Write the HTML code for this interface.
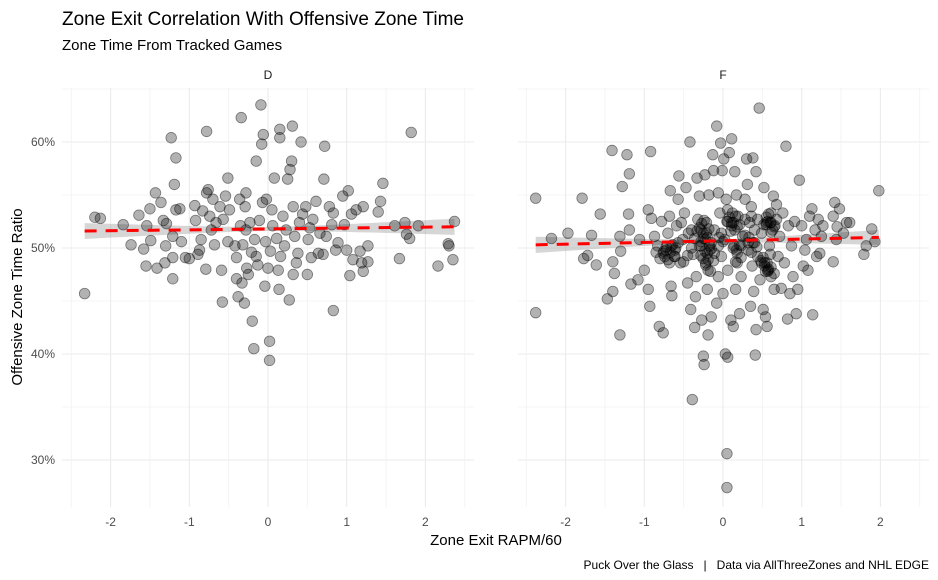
<!DOCTYPE html>
<html><head><meta charset="utf-8">
<style>
body{margin:0;background:#fff;}
svg{display:block;font-family:"Liberation Sans",Arial,sans-serif;}
</style></head>
<body>
<svg id="chart" width="938" height="580" viewBox="0 0 938 580">
<rect width="938" height="580" fill="#fff"/>
<text x="62" y="25" font-size="19" fill="#000">Zone Exit Correlation With Offensive Zone Time</text>
<text x="62" y="50" font-size="15" fill="#000">Zone Time From Tracked Games</text>
<text x="268" y="79" font-size="12" fill="#1a1a1a" text-anchor="middle">D</text>
<text x="723" y="79" font-size="12" fill="#1a1a1a" text-anchor="middle">F</text>
<g id="grid"></g>
<g id="yticks"></g>
<g id="xticks"></g>
<g id="panelD"></g>
<g id="panelF"></g>
<text transform="translate(22,297) rotate(-90)" font-size="15" text-anchor="middle" fill="#000">Offensive Zone Time Ratio</text>
<text x="496" y="545" font-size="15" text-anchor="middle" fill="#000">Zone Exit RAPM/60</text>
<text x="929" y="569" font-size="12" text-anchor="end" fill="#000" style="white-space:pre">Puck Over the Glass   |   Data via AllThreeZones and NHL EDGE</text>
</svg>
<script>
const yTickValues=[30,40,50,60];
const yTickLabels=["30%","40%","50%","60%"];
const xTickValues=[-2,-1,0,1,2];
const xTickLabels=["-2","-1","0","1","2"];
const dX=[-2.33,-2.20,-2.13,-1.84,-1.74,-1.64,-1.58,-1.55,-1.54,-1.50,-1.49,-1.43,-1.41,-1.36,-1.33,-1.31,-1.30,-1.29,-1.23,-1.21,-1.21,-1.21,-1.19,-1.17,-1.17,-1.12,-1.10,-1.05,-1.00,-0.93,-0.92,-0.89,-0.87,-0.85,-0.83,-0.79,-0.78,-0.78,-0.76,-0.74,-0.72,-0.70,-0.68,-0.66,-0.61,-0.59,-0.58,-0.57,-0.54,-0.51,-0.51,-0.49,-0.42,-0.40,-0.40,-0.38,-0.36,-0.35,-0.34,-0.33,-0.32,-0.30,-0.29,-0.28,-0.28,-0.27,-0.25,-0.23,-0.21,-0.20,-0.18,-0.17,-0.15,-0.15,-0.13,-0.11,-0.09,-0.08,-0.07,-0.06,-0.04,-0.03,-0.02,0,0.02,0.02,0.03,0.05,0.06,0.08,0.11,0.13,0.14,0.15,0.15,0.16,0.19,0.21,0.23,0.25,0.27,0.28,0.30,0.31,0.32,0.32,0.34,0.36,0.38,0.40,0.42,0.44,0.48,0.50,0.51,0.53,0.55,0.57,0.61,0.64,0.66,0.70,0.71,0.72,0.74,0.78,0.81,0.83,0.83,0.86,0.89,0.95,0.97,1.00,1.02,1.04,1.06,1.08,1.12,1.17,1.19,1.21,1.21,1.27,1.27,1.40,1.43,1.46,1.61,1.67,1.74,1.76,1.80,1.82,1.91,2.16,2.29,2.30,2.35,2.37];
const dY=[45.7,52.9,52.8,52.2,50.3,53.1,49.9,48.3,52.1,53.7,50.7,55.2,48.1,54.3,52.6,48.6,50.2,52.3,60.4,47.1,49.1,51.1,56.0,58.5,53.6,53.7,50.6,49.1,49.0,54.0,52.6,49.4,49.8,50.8,53.5,48.0,55.2,61.0,55.5,53.0,51.7,54.6,50.3,52.4,53.9,47.9,44.9,52.7,54.9,56.6,50.6,53.6,50.2,49.1,47.1,45.4,54.6,52.1,62.3,46.7,50.3,44.8,53.9,55.2,51.7,48.1,47.5,52.4,49.6,43.1,40.5,50.8,58.2,49.2,48.4,52.6,63.5,59.8,54.3,60.7,46.4,50.6,54.6,48.1,41.2,39.4,49.7,53.6,52.1,56.6,50.9,47.9,46.1,61.2,60.4,49.2,53.0,50.2,51.7,56.5,45.1,57.4,58.2,61.5,53.9,47.5,51.1,48.6,49.5,52.4,60.0,53.2,53.9,47.5,50.8,51.9,49.1,52.7,54.4,49.5,51.4,49.4,56.5,59.6,51.1,53.9,52.2,53.3,44.1,49.8,50.5,54.9,52.2,49.8,55.4,47.4,53.2,48.9,53.6,49.7,48.6,47.8,53.9,50.2,48.7,53.4,54.4,56.1,52.1,49.0,52.4,51.3,50.9,60.9,52.1,48.3,50.4,50.2,48.9,52.5];
const fX=[-2.38,-2.38,-2.18,-1.97,-1.79,-1.77,-1.72,-1.67,-1.61,-1.56,-1.47,-1.41,-1.40,-1.40,-1.38,-1.31,-1.31,-1.30,-1.28,-1.22,-1.20,-1.19,-1.19,-1.17,-1.08,-1.06,-1.00,-0.95,-0.95,-0.93,-0.92,-0.91,-0.87,-0.83,-0.81,-0.78,-0.76,-0.74,-0.70,-0.68,-0.67,-0.66,-0.65,-0.61,-0.59,-0.57,-0.56,-0.54,-0.51,-0.49,-0.47,-0.45,-0.42,-0.41,-0.40,-0.38,-0.36,-0.35,-0.34,-0.33,-0.32,-0.30,-0.28,-0.28,-0.27,-0.25,-0.24,-0.23,-0.22,-0.21,-0.20,-0.19,-0.18,-0.17,-0.16,-0.15,-0.13,-0.12,-0.11,-0.08,-0.08,-0.06,-0.06,-0.04,-0.03,-0.02,-0.01,0,0.01,0.02,0.03,0.04,0.06,0.06,0.08,0.10,0.11,0.11,0.13,0.14,0.15,0.16,0.17,0.18,0.19,0.21,0.23,0.25,0.28,0.30,0.31,0.32,0.34,0.35,0.36,0.37,0.38,0.39,0.40,0.41,0.42,0.42,0.44,0.44,0.46,0.47,0.49,0.51,0.52,0.53,0.54,0.55,0.56,0.57,0.59,0.61,0.61,0.64,0.65,0.66,0.68,0.70,0.72,0.74,0.76,0.78,0.80,0.82,0.83,0.85,0.87,0.89,0.91,0.93,0.95,0.97,1.00,1.02,1.04,1.06,1.08,1.10,1.13,1.14,1.17,1.19,1.21,1.23,1.25,1.27,1.40,1.40,1.42,1.44,1.45,1.48,1.53,1.57,1.61,1.79,1.82,1.89,1.93,1.98,-0.76,-0.72,-0.66,-0.61,-0.30,-0.25,-0.23,-0.19,-0.21,-0.15,-0.11,0.11,0.15,0.06,0.17,0.23,0.32,0.40,0.49,0.53,0.57,0.61,0.57,0.55,-0.28,-0.36,-0.44,-0.53,-0.57,0.06,0.36,0.28,-0.02,-0.06,-0.39,0.05,0.05,
-0.25,-0.30,-0.20,-0.27,-0.22,-0.33,-0.18,-0.24,-0.67,-0.72,-0.62,-0.70,-0.64,-0.75,-0.60,-0.68,-0.20,-0.25,-0.15,-0.22,-0.17,-0.28,-0.12,-0.19,0.13,0.08,0.18,0.10,0.16,0.05,0.21,0.12,0.60,0.55,0.65,0.58,0.63,0.52,0.68,0.61,0.56,0.51,0.61,0.54,0.60,0.48,0.65,0.58,0.18,0.13,0.23,0.16,0.21,0.38,0.33,0.43,0.36,-0.45,-0.50,-0.40,-0.85,-0.80,-0.05,0.00,0.28];
const fY=[54.7,43.9,50.9,51.4,54.7,49.0,49.3,51.2,48.4,53.2,45.2,59.2,48.7,45.9,47.6,51.1,41.8,49.7,55.8,58.8,53.2,57.0,51.7,46.6,47.0,50.8,47.9,53.6,46.1,44.5,59.1,52.8,51.1,50.2,42.6,52.5,42.0,49.2,51.4,53.0,55.4,46.4,45.5,49.8,52.1,54.6,56.8,48.6,50.8,53.3,55.7,46.7,60.0,44.2,51.7,49.4,42.5,45.4,47.3,56.6,52.7,54.9,50.2,50.6,43.2,39.8,39.0,56.9,48.6,52.4,46.1,41.8,55.0,49.8,47.8,43.5,58.8,57.3,51.7,44.8,61.5,47.3,55.2,53.3,59.9,49.2,57.3,45.7,58.4,50.8,40.0,54.6,39.7,47.9,59.0,43.2,60.3,52.1,42.6,50.2,57.2,46.1,55.0,48.6,53.0,43.8,47.3,51.1,54.6,58.4,56.0,49.8,52.4,44.5,53.9,48.3,58.5,45.9,50.5,39.9,42.3,57.2,52.7,49.2,63.2,47.0,51.4,44.2,55.7,48.6,43.5,52.4,42.6,47.9,50.2,53.3,47.3,54.9,46.1,52.1,54.1,49.2,51.1,46.2,53.3,48.6,59.6,43.3,52.1,45.7,50.2,47.3,52.5,43.8,46.1,56.4,52.1,48.3,49.8,50.8,47.9,53.0,53.7,43.7,51.7,49.2,52.7,49.5,51.1,52.1,48.7,53.0,54.3,50.8,52.0,53.7,51.4,52.4,52.4,49.4,50.2,51.8,50.6,55.4,49.5,49.8,50.2,49.2,50.2,50.9,49.7,48.9,51.4,50.5,49.5,52.4,51.7,52.5,49.8,50.2,50.5,51.7,48.6,48.3,47.8,52.4,52.5,52.2,51.7,50.9,51.4,52.4,50.5,53.6,53.0,52.7,51.4,50.2,35.7,30.6,27.4,
51.4,51.9,51.0,52.3,50.8,51.6,51.8,52.6,49.6,50.1,49.2,48.9,50.3,49.7,50.0,48.6,49.5,49.0,49.9,48.4,50.2,49.3,48.8,47.9,52.4,52.9,52.0,51.6,53.0,52.5,52.2,53.3,52.4,52.9,52.0,53.2,51.7,52.2,52.7,51.5,48.6,49.1,48.2,47.8,49.4,48.8,47.6,48.0,49.5,50.0,49.1,48.7,50.3,50.5,51.0,50.1,49.6,49.3,48.7,50.0,49.6,49.0,51.0,50.6,51.2];
const fitD=[-2.33,51.6,2.37,52.0];
const fitF=[-2.38,50.3,1.98,51.0];
const seD=[0.2,0.31,0.0];
const seF=[0.15,0.33,-0.1];

const NS="http://www.w3.org/2000/svg";
const yScale=v=>248-(v-50)*10.6;
const xScaleD=v=>268+v*78.7;
const xScaleF=v=>723+v*78.7;
const pTop=88,pBot=507;
const panels=[[62,474,xScaleD],[518,929,xScaleF]];
function mk(tag,attrs,parent){const e=document.createElementNS(NS,tag);for(const k in attrs)e.setAttribute(k,attrs[k]);parent.appendChild(e);return e;}
const grid=document.getElementById('grid');
panels.forEach(([l,r,xs])=>{
  for(let v=25;v<=65;v+=5){const y=yScale(v);if(y<pTop||y>pBot)continue;
    const ln=mk('line',{x1:l,x2:r,y1:y,y2:y,stroke:v%10===0?'#ebebeb':'#f2f2f2','stroke-width':v%10===0?1.1:0.8},grid);
    
    }
  for(let v=-2.5;v<=2.5;v+=0.5){const x=xs(v);if(x<l-1||x>r+1)continue;
    const ln=mk('line',{x1:x,x2:x,y1:pTop,y2:pBot,stroke:Number.isInteger(v)?'#ebebeb':'#f2f2f2','stroke-width':Number.isInteger(v)?1.1:0.8},grid);
    
    }
});
const yt=document.getElementById('yticks');
yTickValues.forEach((v,i)=>{const t=mk('text',{x:55,y:yScale(v)+4,'font-size':12,'text-anchor':'end',fill:'#4d4d4d'},yt);t.textContent=yTickLabels[i];
  
  });
const xt=document.getElementById('xticks');
panels.forEach(([l,r,xs])=>{xTickValues.forEach((v,i)=>{const t=mk('text',{x:xs(v),y:526,'font-size':12,'text-anchor':'middle',fill:'#4d4d4d'},xt);t.textContent=xTickLabels[i];
  
  });});
function drawPanel(g,xs,X,Y,fit,se){
  const xm=se[2];
  const sef=x=>Math.sqrt(se[0]*se[0]+se[1]*se[1]*(x-xm)*(x-xm));
  const yf=x=>fit[1]+(fit[3]-fit[1])*(x-fit[0])/(fit[2]-fit[0]);
  let up=[],dn=[];
  for(let i=0;i<=40;i++){const x=fit[0]+(fit[2]-fit[0])*i/40;up.push(xs(x)+','+yScale(yf(x)+sef(x)));dn.unshift(xs(x)+','+yScale(yf(x)-sef(x)));}
  const rib=mk('polygon',{points:up.concat(dn).join(' '),fill:'#999','fill-opacity':0.4},g);
  
  
  X.forEach((x,i)=>{const c=mk('circle',{cx:xs(x),cy:yScale(Y[i]),r:5.3,fill:'rgba(0,0,0,0.3)',stroke:'rgba(0,0,0,0.45)','stroke-width':0.8},g);
    
    });
  const ln=mk('line',{x1:xs(fit[0]),y1:yScale(fit[1]),x2:xs(fit[2]),y2:yScale(fit[3]),stroke:'#ff0000','stroke-width':3,'stroke-dasharray':'12 9'},g);
  
  
}
drawPanel(document.getElementById('panelD'),xScaleD,dX,dY,fitD,seD);
drawPanel(document.getElementById('panelF'),xScaleF,fX,fY,fitF,seF);
</script>
</body></html>
